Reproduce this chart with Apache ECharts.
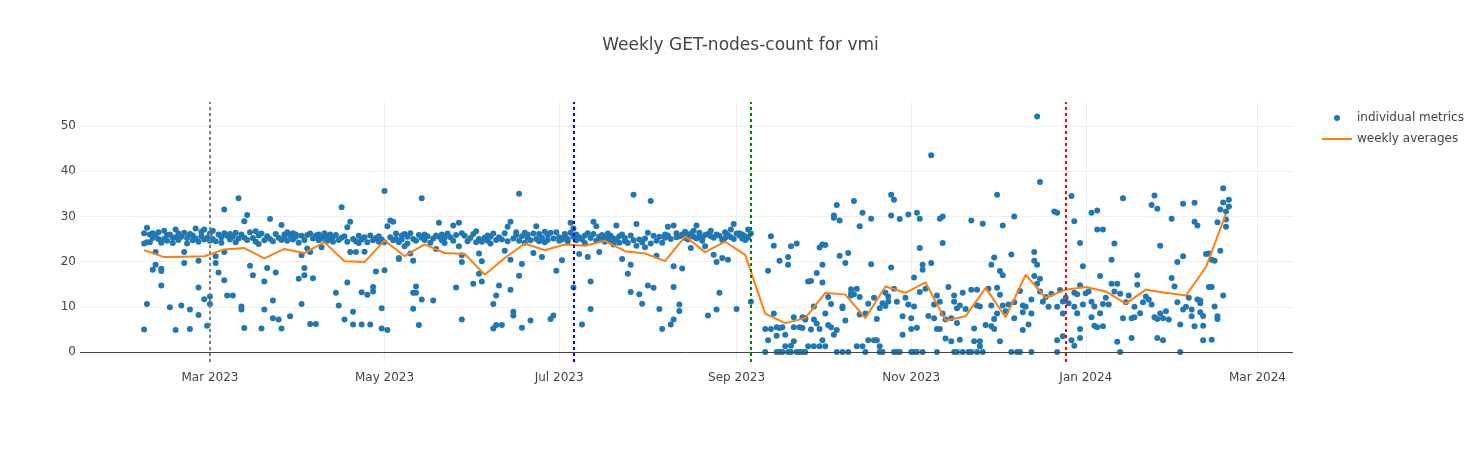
<!DOCTYPE html>
<html>
<head>
<meta charset="utf-8">
<script src="https://cdn.jsdelivr.net/npm/echarts@6/dist/echarts.min.js"></script>
<style>
html,body{margin:0;padding:0;background:#fff;}
#chart{width:1481px;height:450px;}
</style>
</head>
<body>
<div id="chart"></div>
<script>
const chartTitle = 'Weekly GET-nodes-count for vmi';
const metricsName = 'individual metrics';
const averagesName = 'weekly averages';

// one entry per day, starting at firstMetricDate
const firstMetricDate = '2023-02-06';
const dailyMetrics = [
  [26.3,24.0,5.0],[27.5,24.3,10.6],[26.0,24.3],[26.3,25.2,18.2],[25.6,22.1,19.3],[25.0,26.5],[24.2,18.4,17.9,14.7],
  [25.0,26.8],[24.6,25.9],[26.0,9.9],[25.3,24.1],[27.1,25.4,4.9],[24.8,26.2],[25.5,10.3],
  [26.4,22.1,19.7],[25.2,24.0],[26.1,9.4,5.1],[24.7,25.8],[27.3,25.1],[24.4,20.2,14.3,8.2],[25.6,26.6],
  [27.1,24.9,11.7],[25.3,5.8],[26.2,24.6,12.3,10.6],[25.0,26.8],[24.5,21.2,19.7],[26.0,17.6],[25.4,24.2],
  [26.3,31.5,22.1,15.9],[25.7,12.5],[24.9,26.1],[25.5,12.5],[26.4,24.3],[34.0,25.1],[26.0,10.1,9.4],
  [28.9,25.3,5.3],[30.3,24.8],[26.5,19.1],[25.2,17.0],[24.4,26.7],[25.8,23.9],[26.2,5.2],
  [24.7,15.6,9.4],[25.6,18.6],[29.4,25.0],[24.5,11.4,7.5],[26.1,17.6],[25.3,7.2],[28.1,24.8,5.2],
  [26.0,25.2],[24.6,26.5],[25.8,7.9],[26.3,24.9],[25.5,26.0],[24.2,16.2],[25.7,21.4,10.6],
  [24.8,18.6,17.0],[22.9,25.9],[26.2,22.1,6.2],[25.1,16.3],[25.8,6.2],[24.7,26.0],[25.4,23.2],
  [26.3,25.0],[24.6,25.7],[26.0,25.2],[25.5,24.4],[25.9,13.1],[24.8,10.3],[32.0,25.3],
  [25.6,7.2],[27.6,24.4,15.4],[28.8,22.1],[25.0,8.9,6.1],[24.5,22.1],[25.7,24.1],[24.9,13.2,6.1],
  [25.4,22.2],[24.3,12.7],[25.8,6.1],[24.7,14.4,13.4],[25.2,17.8],[24.4,25.6],[24.9,9.7,5.2],
  [35.6,24.3,18.1],[27.8,4.9],[29.1,25.4],[28.8,24.7],[26.2,25.0],[24.3,20.8,20.6],[25.8,24.9],
  [26.1,23.4],[25.5,24.0],[26.3,21.8],[25.0,20.2,13.1,9.6],[24.6,14.5,13.1],[25.9,6.0],[34.0,25.3,11.6],
  [24.8,26.0],[25.6],[24.2],[25.1,11.4],[25.8,22.8],[28.6,25.5],[26.0,24.7],
  [25.3,24.1],[26.2],[25.4],[28.0,24.6],[25.9,14.3],[28.6,23.4],[26.3,21.4,19.9,7.2],
  [25.7],[24.5],[25.2],[26.1,15.1],[26.7,24.3],[25.0,21.8,17.3],[24.4,20.1,15.6],
  [25.3],[24.6,25.8],[25.5,24.0],[26.2,10.6,5.2],[24.8,12.5,6.0],[25.4,14.7],[24.9,6.0],
  [26.3,22.4],[27.7,24.5],[28.8,20.4,13.8],[25.1,8.9,8.1],[25.9,26.5],[35.0,24.6,16.9],[25.6,19.5,5.4],
  [26.4,24.2],[25.3,26.0],[24.7,7.0],[26.2,21.9],[27.8,25.0],[26.1,24.5],[25.3,21.0],
  [24.3,26.6],[25.9,24.8],[26.4,7.3],[25.1,8.1],[26.5,18.0],[25.4,24.6],[24.9,20.3],
  [26.1,25.6],[24.5,25.0],[28.6,26.4],[27.3,25.5,14.3],[26.0,24.7],[25.4,21.7],[24.9,6.1],
  [25.8,24.1],[26.3,21.0],[25.2,15.6,9.5],[28.8,26.1],[27.8,24.6],[25.5,22.1],[24.8,25.9],
  [25.3,24.4],[26.2,25.0],[24.6,25.7],[23.8,25.1],[28.0,24.9],[25.6,24.2],[26.0,20.6],
  [25.2,24.5],[24.1,17.3],[25.8,19.3,13.3],[34.8,24.7],[28.3,23.5],[24.9,12.8],[24.3,10.7],
  [25.1,23.2],[26.4,14.7],[33.4,24.0],[25.7,14.2],[24.6,21.3],[25.5,9.5],[24.2,5.1],
  [26.0,25.3],[27.7,25.8],[25.0,6.1],[28.0,19.0,14.4,7.2],[26.3,25.4],[25.6,10.5,9.1],[26.0,18.5],
  [26.6,25.2],[25.8,24.9],[26.2,23.0],[25.5,26.8],[28.0,25.1],[26.4,25.7],[25.0,24.6],
  [25.9,23.4],[26.1,8.1],[26.8,25.6],[25.3,21.5],[26.0,19.9,9.4],[25.7,13.1],[24.8,20.8],
  [26.5,25.2],[25.9,20.4],[27.1,25.4],[28.3,25.0],[26.2,9.5],[25.8,26.3],[25.1,26.0],
  [25.6,24.8],[27.1,25.3],[26.2,11.1],[],[],[],[],
  [5.1,0],[18.0,2.6],[25.6,5.1],[23.5,8.5],[5.5,3.6,0],[20.2,5.3,0],[5.5,0],
  [3.8,1.3],[21.0,19.3,0],[23.4,1.4,0],[7.7,5.5,2.4],[24.0,0],[5.5,0],[7.7,5.3,0],
  [7.2,7.5,0],[15.6,1.3],[15.7,5.0],[10.1,7.2,1.3],[17.5,6.3],[23.1,5.1,1.3],[23.8,19.3,15.4,2.6],
  [23.7,8.5,1.3],[12.2,6.0],[10.6,5.5],[30.2,29.7,3.8],[32.5,4.9,0],[29.1,21.3],[10.1,9.7,0],
  [19.7,7.0],[21.9,0],[13.9,13.0,12.5],[33.4,12.8],[14.0,1.3],[27.8,8.3,12.2],[30.8,1.3],
  [8.5,0],[10.7,2.6],[29.5,19.4],[12.0,2.6],[7.3,2.6],[9.7,1.3,0],[10.8,0],
  [13.1,10.2],[12.3,11.2],[34.8,30.2,18.7],[33.7,14.0,0],[11.1,0],[29.4,0],[7.9,3.8],
  [12.0],[30.4,10.5],[7.5,5.1,0],[16.5,10.1,0],[30.8,5.4,0],[29.5,23.0,13.3],[19.3,18.2,0],
  [14.0],[8.0],[43.5,19.7],[10.5,7.5],[12.5,5.1,0],[29.5,11.1,5.1],[30.0,24.1,8.5],
  [7.2,3.0],[14.4],[7.5,2.4],[12.5,11.1,0],[9.7,6.4,0],[10.3,2.7],[13.1,0],
  [9.5],[0],[29.1,13.8,0],[5.2,2.4],[13.8,10.3,0],[10.1,2.4,1.3],[28.4,0],
  [6.0],[14.0],[19.3,10.3,5.7],[20.9,7.3,5.1],[34.8,14.2,8.5],[17.9,12.7,2.4],[28.0,17.0,10.3],
  [9.0],[10.5],[21.6,0],[30.0,11.0,7.5],[0],[13.5,0],[10.3,8.8,4.9],
  [10.0],[6.1],[11.6,8.5,0],[22.1,20.2,16.8],[52.1,19.3,15.1],[37.6,16.2,13.4],[11.1],
  [12.2],[10.0],[12.9],[31.1],[30.8,10.0,2.6,0],[13.7],[11.2,8.5,3.5],
  [12.0],[10.8],[34.5,2.6],[28.9,13.1,10.0,1.4],[12.8,8.6],[24.1,14.8,5.1,3.1],[19.0,10.5],
  [13.0],[13.4],[30.8,11.1,7.7],[10.1,5.8],[31.3,27.1,5.5],[16.8,8.6],[27.1,10.6,5.7],
  [12.0],[10.5],[20.4,15.1],[24.0,13.4],[15.1,2.3],[12.9,0],[34.0,7.5],
  [11.0],[12.5],[7.5,3.1],[7.7,10.0],[17.0,14.9],[8.6],[11.0],
  [12.3],[11.6],[32.5,10.5],[34.6,7.7],[31.7,7.3,3.1],[23.5,8.5],[7.5,2.6],
  [9.0],[7.2],[29.5,16.4],[14.5],[19.9,11.0],[6.1,0],[32.8,21.2,9.4],
  [10.0],[12.0],[9.4,7.9],[33.0,28.8,5.7],[28.0,11.6],[11.4,10.8,8.8],[8.0,5.8,2.6],
  [21.7],[21.8,14.4],[20.4,14.4,2.7],[20.2,10.1],[28.7,7.9,7.3],[31.5,22.4],[36.2,33.1,12.5],
  [31.1,29.3,27.7],[33.7,32.2]
];

// one value per week, starting at firstWeekDate
const firstWeekDate = '2023-02-06';
const weeklyAverages = [
  22.5, 21.0, 21.1, 21.2, 22.7, 23.0, 20.7, 22.8, 21.9, 24.3,
  20.1, 19.9, 24.7, 21.2, 23.8, 21.9, 21.7, 17.1, 20.8, 24.0,
  22.5, 23.8, 23.5, 24.6, 22.3, 21.8, 20.1, 25.6, 22.1, 24.4,
  21.5, 8.5, 6.4, 7.5, 13.1, 12.7, 7.5, 14.5, 13.1, 15.4,
  7.0, 7.9, 14.2, 7.7, 17.1, 12.0, 13.8, 14.4, 13.4, 10.7,
  13.8, 13.1, 12.5, 18.8, 30.6
];

const eventDates = ['2023-03-01', '2023-07-06', '2023-09-06', '2023-12-25'];
const eventColors = ['grey', 'blue', 'green', 'red'];

const xTickDates = ['2023-03-01', '2023-05-01', '2023-07-01', '2023-09-01', '2023-11-01', '2024-01-01', '2024-03-01'];
const yTickValues = [0, 10, 20, 30, 40, 50];
const monthNames = ['Jan','Feb','Mar','Apr','May','Jun','Jul','Aug','Sep','Oct','Nov','Dec'];

const DAY = 86400000;
const FONT = '"DejaVu Sans", Verdana, sans-serif';

const t0 = Date.parse(firstMetricDate);
const metricPoints = [];
dailyMetrics.forEach((vals, i) => vals.forEach(v => metricPoints.push([t0 + i * DAY, v])));
const w0 = Date.parse(firstWeekDate);
const weeklyPoints = weeklyAverages.map((v, i) => [w0 + i * 7 * DAY, v]);
const xTicks = xTickDates.map(d => Date.parse(d));
const anchor = Date.parse('2023-03-01');

const chart = echarts.init(document.getElementById('chart'), null, {renderer: 'canvas'});
chart.setOption({
  animation: false,
  backgroundColor: '#fff',
  textStyle: {fontFamily: FONT},
  title: {
    text: chartTitle,
    left: 'center',
    top: 32,
    textStyle: {fontSize: 17, fontWeight: 'normal', color: '#444', fontFamily: FONT}
  },
  legend: [
    {
      data: [{name: metricsName, icon: 'circle'}],
      orient: 'vertical', left: 1334, top: 112, padding: 0,
      itemWidth: 6, itemHeight: 6, selectedMode: false,
      textStyle: {fontSize: 12, color: '#444', fontFamily: FONT, padding: [0, 0, 0, 12]}
    },
    {
      data: [{name: averagesName, icon: 'rect'}],
      orient: 'vertical', left: 1322, top: 133, padding: 0,
      itemWidth: 30, itemHeight: 2, selectedMode: false,
      textStyle: {fontSize: 12, color: '#444', fontFamily: FONT}
    }
  ],
  grid: {left: 80, right: 188, top: 102, bottom: 88, containLabel: false, outerBoundsMode: 'none'},
  xAxis: {
    type: 'value',
    min: anchor - 45.4 * DAY,
    max: anchor + 378.4 * DAY,
    axisLine: {show: false},
    axisTick: {show: false, customValues: xTicks},
    axisLabel: {
      customValues: xTicks, color: '#444', fontSize: 12, margin: 10, fontFamily: FONT,
      formatter: v => { const d = new Date(v); return monthNames[d.getUTCMonth()] + ' ' + d.getUTCFullYear(); }
    },
    splitLine: {show: true, lineStyle: {color: '#eee', width: 1}}
  },
  yAxis: {
    type: 'value',
    min: -2.2,
    max: 55.3,
    axisLine: {show: false},
    axisTick: {show: false, customValues: yTickValues},
    axisLabel: {customValues: yTickValues, color: '#444', fontSize: 12, margin: 4, fontFamily: FONT},
    splitLine: {show: true, lineStyle: {color: '#eee', width: 1}}
  },
  series: [
    {
      type: 'line', name: 'zero', data: [], z: 1, silent: true,
      markLine: {
        silent: true, symbol: ['none', 'none'], label: {show: false}, animation: false,
        lineStyle: {color: '#444', width: 1, type: 'solid'},
        data: [{yAxis: 0}]
      }
    },
    {
      type: 'scatter', name: metricsName, data: metricPoints, z: 2,
      symbol: 'circle', symbolSize: 6,
      itemStyle: {color: '#1f77b4', opacity: 1}
    },
    {
      type: 'line', name: averagesName, data: weeklyPoints, z: 3,
      symbol: 'none', showSymbol: false,
      lineStyle: {color: '#ff7f0e', width: 2},
      itemStyle: {color: '#ff7f0e'}
    },
    {
      type: 'line', name: 'events', data: [], z: 4, silent: true,
      markLine: {
        silent: true, symbol: ['none', 'none'], label: {show: false}, animation: false,
        data: eventDates.map((d, i) => ({
          xAxis: Date.parse(d),
          lineStyle: {color: eventColors[i], width: 2, type: [3, 3]}
        }))
      }
    }
  ]
});
</script>
</body>
</html>
